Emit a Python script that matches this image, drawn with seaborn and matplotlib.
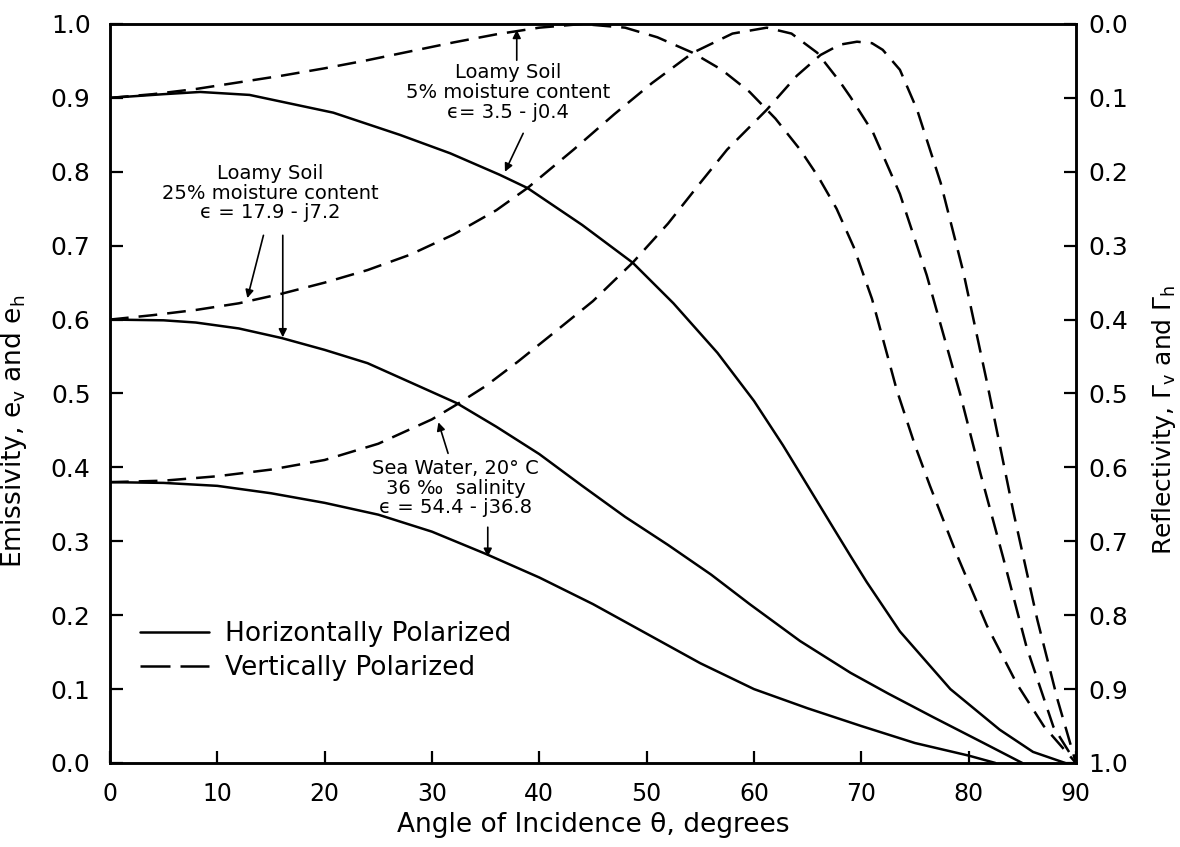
import numpy as np
import pandas as pd
import matplotlib
matplotlib.use("Agg")
import matplotlib.pyplot as plt
import seaborn as sns
from matplotlib import font_manager
from matplotlib.lines import Line2D

# emissivity curves (angle in degrees)
loam5_h_ang = [0, 5, 8.4, 13, 20.8, 27, 31.7, 36.3, 38.9, 44, 48.7, 52.5, 56.6, 60, 62.7,
               64.3, 67.4, 69, 70.5, 73.6, 78.3, 82.9, 86, 89]
loam5_h = [0.90, 0.905, 0.908, 0.904, 0.88, 0.85, 0.825, 0.796, 0.778, 0.728, 0.677, 0.622,
           0.555, 0.49, 0.43, 0.392, 0.318, 0.28, 0.245, 0.178, 0.10, 0.045, 0.015, 0.0]

loam5_v_ang = [0, 4, 8, 12, 16, 20, 24, 28, 32, 36, 40, 44, 48, 51, 54.3, 57, 59.6, 62, 64.3,
               66, 67.7, 69.3, 71, 72.5, 73.3, 75, 76.4, 78.9, 81.7, 84.5, 87, 90]
loam5_v = [0.90, 0.905, 0.912, 0.921, 0.93, 0.94, 0.951, 0.963, 0.975, 0.986, 0.995, 1.0,
           0.995, 0.982, 0.961, 0.938, 0.908, 0.872, 0.83, 0.793, 0.75, 0.698, 0.628, 0.548,
           0.505, 0.43, 0.375, 0.282, 0.186, 0.107, 0.05, 0.0]

loam25_h_ang = [0, 5, 8, 12, 16, 20, 24, 28, 32.3, 36, 40, 44, 48, 52, 56, 59.6, 64.3, 69,
                72.5, 76.7, 81.4, 85]
loam25_h = [0.60, 0.599, 0.596, 0.588, 0.575, 0.559, 0.541, 0.515, 0.487, 0.455, 0.418,
            0.375, 0.333, 0.295, 0.255, 0.215, 0.165, 0.122, 0.094, 0.062, 0.027, 0.0]

loam25_v_ang = [0, 4, 8, 12, 16, 20, 24, 28, 32, 36, 38.9, 43.2, 47, 50.5, 54.3, 58, 61.2,
                63.5, 65.9, 68, 69, 71.1, 73.6, 76.1, 79.2, 81.1, 83.2, 85.4, 87.9, 90]
loam25_v = [0.60, 0.606, 0.613, 0.622, 0.635, 0.65, 0.667, 0.688, 0.715, 0.748, 0.778, 0.83,
            0.878, 0.92, 0.961, 0.987, 0.995, 0.987, 0.961, 0.922, 0.901, 0.853, 0.77, 0.66,
            0.50, 0.392, 0.279, 0.157, 0.049, 0.0]

sea_h_ang = [0, 5, 10, 15, 20, 25, 30, 35, 40, 45, 50, 55, 60, 65, 70, 75, 80, 82.5]
sea_h = [0.38, 0.379, 0.375, 0.365, 0.352, 0.336, 0.313, 0.283, 0.251, 0.215, 0.175, 0.135,
         0.10, 0.074, 0.05, 0.027, 0.01, 0.0]

sea_v_ang = [0, 5, 10, 15, 20, 25, 30, 32.3, 35, 38, 41, 45, 48.7, 52, 55, 57.5, 61.2, 64,
             66.2, 68, 69.6, 71, 72, 73.6, 75.2, 77.4, 79.5, 81.7, 84.2, 86.4, 88.3, 90]
sea_v = [0.38, 0.382, 0.388, 0.397, 0.41, 0.432, 0.465, 0.485, 0.51, 0.543, 0.578, 0.625,
         0.677, 0.73, 0.785, 0.83, 0.884, 0.93, 0.958, 0.972, 0.976, 0.974, 0.965, 0.938,
         0.884, 0.785, 0.665, 0.516, 0.338, 0.194, 0.085, 0.0]

H_LABEL = "Horizontally Polarized"
V_LABEL = "Vertically Polarized"

curves = [
    ("loam5", H_LABEL, loam5_h_ang, loam5_h),
    ("loam5", V_LABEL, loam5_v_ang, loam5_v),
    ("loam25", H_LABEL, loam25_h_ang, loam25_h),
    ("loam25", V_LABEL, loam25_v_ang, loam25_v),
    ("sea", H_LABEL, sea_h_ang, sea_h),
    ("sea", V_LABEL, sea_v_ang, sea_v),
]
df = pd.concat(
    [pd.DataFrame({"angle": a, "emissivity": e, "surface": s, "pol": p})
     for s, p, a, e in curves],
    ignore_index=True,
)

sns.set_style("ticks")
plt.rcParams.update({
    "text.color": "black", "axes.labelcolor": "black", "axes.edgecolor": "black",
    "xtick.color": "black", "ytick.color": "black",
})

available = {f.name for f in font_manager.fontManager.ttflist}
if "Liberation Sans Narrow" in available:
    NARROW, k = "Liberation Sans Narrow", 1.25
else:
    NARROW, k = "DejaVu Sans", 1.0
label_font = [NARROW, "DejaVu Sans"]
plt.rcParams["font.family"] = label_font
plt.rcParams["mathtext.fontset"] = "custom"
plt.rcParams["mathtext.rm"] = NARROW
plt.rcParams["mathtext.default"] = "rm"

fig = plt.figure(figsize=(11.8, 8.47), dpi=100)
ax = fig.add_axes([0.0932, 0.0992, 0.8186, 0.8725])

sns.lineplot(
    data=df, x="angle", y="emissivity", units="surface", style="pol",
    estimator=None, color="black", linewidth=1.8,
    dashes={H_LABEL: "", V_LABEL: (7.5, 4)}, legend=False, ax=ax,
)

ax.set_xlim(0, 90)
ax.set_ylim(0, 1)
ax.set_xticks(np.arange(0, 91, 10))
ax.set_yticks(np.arange(0, 1.01, 0.1))
ax.set_yticklabels([f"{v:.1f}" for v in np.arange(0, 1.01, 0.1)])
ax.tick_params(axis="x", direction="in", length=9, width=1.6, pad=14, labelsize=17 * k)
ax.tick_params(axis="y", direction="in", length=9, width=1.6, pad=14, labelsize=18 * k)
for sp in ax.spines.values():
    sp.set_visible(True)
    sp.set_linewidth(1.8)
ax.set_xlabel("Angle of Incidence \u03b8, degrees", fontsize=19 * k, labelpad=4)
ax.set_ylabel("Emissivity, e$_{v}$ and e$_{h}$", fontsize=19 * k)
ax.yaxis.set_label_coords(-0.084, 0.449)

# reflectivity = 1 - emissivity on the right
ax2 = ax.twinx()
ax2.set_ylim(1, 0)
ax2.set_yticks(np.arange(0, 1.01, 0.1))
ax2.set_yticklabels([f"{v:.1f}" for v in np.arange(0, 1.01, 0.1)])
ax2.tick_params(axis="y", direction="in", length=9, width=1.6, pad=9, labelsize=18 * k)
for sp in ax2.spines.values():
    sp.set_linewidth(1.8)
ax2.set_ylabel("Reflectivity, \u0393$_{v}$ and \u0393$_{h}$", fontsize=18 * k)
ax2.yaxis.set_label_coords(1.077, 0.464)

# curve annotations
note_kw = dict(fontsize=14, family="DejaVu Sans", ha="center", va="center", linespacing=1.05)
arrow_kw = dict(arrowstyle="-|>", color="black", lw=1.2, mutation_scale=12,
                shrinkA=0, shrinkB=0)

ax.text(37.1, 0.907, "Loamy Soil\n5% moisture content\n\u03f5= 3.5 - j0.4", **note_kw)
ax.annotate("", xy=(37.9, 0.992), xytext=(37.9, 0.951), arrowprops=arrow_kw)
ax.annotate("", xy=(36.8, 0.80), xytext=(38.5, 0.852), arrowprops=arrow_kw)

ax.text(14.9, 0.771, "Loamy Soil\n25% moisture content\n\u03f5 = 17.9 - j7.2", **note_kw)
ax.annotate("", xy=(12.8, 0.629), xytext=(14.3, 0.714), arrowprops=arrow_kw)
ax.annotate("", xy=(16.1, 0.576), xytext=(16.1, 0.714), arrowprops=arrow_kw)

ax.text(32.2, 0.372, "Sea Water, 20\u00b0 C\n36 \u2030  salinity\n\u03f5 = 54.4 - j36.8", **note_kw)
ax.annotate("", xy=(30.6, 0.461), xytext=(31.5, 0.419), arrowprops=arrow_kw)
ax.annotate("", xy=(35.2, 0.279), xytext=(35.2, 0.319), arrowprops=arrow_kw)

handles = [
    Line2D([], [], color="black", lw=1.8, ls="-"),
    Line2D([], [], color="black", lw=1.8, dashes=(12, 4)),
]
ax.legend(handles, [H_LABEL, V_LABEL], loc="upper left", bbox_to_anchor=(0.031, 0.192),
          frameon=False, borderpad=0, borderaxespad=0, handlelength=2.6,
          handletextpad=0.64, labelspacing=0.3, prop={"family": label_font, "size": 19 * k})

fig.savefig("out.png", dpi=100)
